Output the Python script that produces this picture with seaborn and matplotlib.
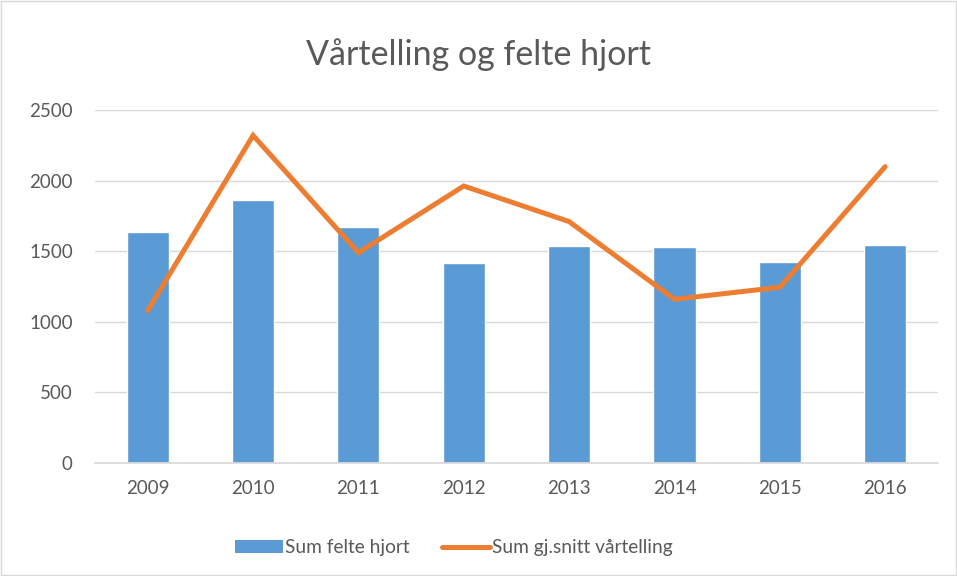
import numpy as np
import pandas as pd
import seaborn as sns
import matplotlib.pyplot as plt
from matplotlib.patches import Patch, Rectangle
from matplotlib.lines import Line2D

years = ['2009', '2010', '2011', '2012', '2013', '2014', '2015', '2016']
felte_hjort = [1637, 1863, 1674, 1417, 1538, 1531, 1427, 1547]
vartelling = [1080, 2320, 1490, 1962, 1710, 1160, 1245, 2099]

df = pd.DataFrame({'aar': years, 'felt': felte_hjort, 'vaar': vartelling})

sns.set_theme(style='white')
plt.rcParams['font.family'] = ['Lato', 'DejaVu Sans']

blue = '#5b9bd5'
orange = '#ed7d31'
grey = '#595959'

fig = plt.figure(figsize=(9.57, 5.76), dpi=100)
ax = fig.add_axes([0.0993, 0.196, 0.8807, 0.613])

sns.barplot(data=df, x='aar', y='felt', color=blue, width=0.4, saturation=1, ax=ax)
sns.lineplot(x=np.arange(len(years)), y=df['vaar'], color=orange, linewidth=3.6,
             ax=ax, solid_capstyle='round', solid_joinstyle='miter')

ax.set_xlim(-0.5, len(years) - 0.5)
ax.set_ylim(0, 2500)
ax.set_yticks(range(0, 2501, 500))
ax.yaxis.grid(True, color='#d9d9d9', linewidth=1)
ax.set_axisbelow(True)
ax.set_xlabel('')
ax.set_ylabel('')
for s in ['top', 'right', 'left']:
    ax.spines[s].set_visible(False)
ax.spines['bottom'].set_color('#d9d9d9')
ax.tick_params(axis='y', length=0, pad=16, labelsize=13.5, labelcolor=grey)
ax.tick_params(axis='x', length=0, pad=12, labelsize=13.5, labelcolor=grey)

fig.text(0.5, 0.905, 'Vårtelling og felte hjort', ha='center', va='center',
         fontsize=24.5, color=grey)

handles = [Patch(facecolor=blue, edgecolor='none'),
           Line2D([0], [0], color=orange, linewidth=3.6, solid_capstyle='round')]
fig.legend(handles, ['Sum felte hjort', 'Sum gj.snitt vårtelling'], loc='center',
           bbox_to_anchor=(0.474, 0.049), ncol=2, frameon=False, fontsize=13.8,
           labelcolor=grey, handlelength=2.5, handletextpad=0.1, columnspacing=1.7)

fig.patches.append(Rectangle((0.001, 0.001), 0.998, 0.998, transform=fig.transFigure,
                             fill=False, edgecolor='#d9d9d9', linewidth=1))

fig.savefig('out.png', dpi=100)
